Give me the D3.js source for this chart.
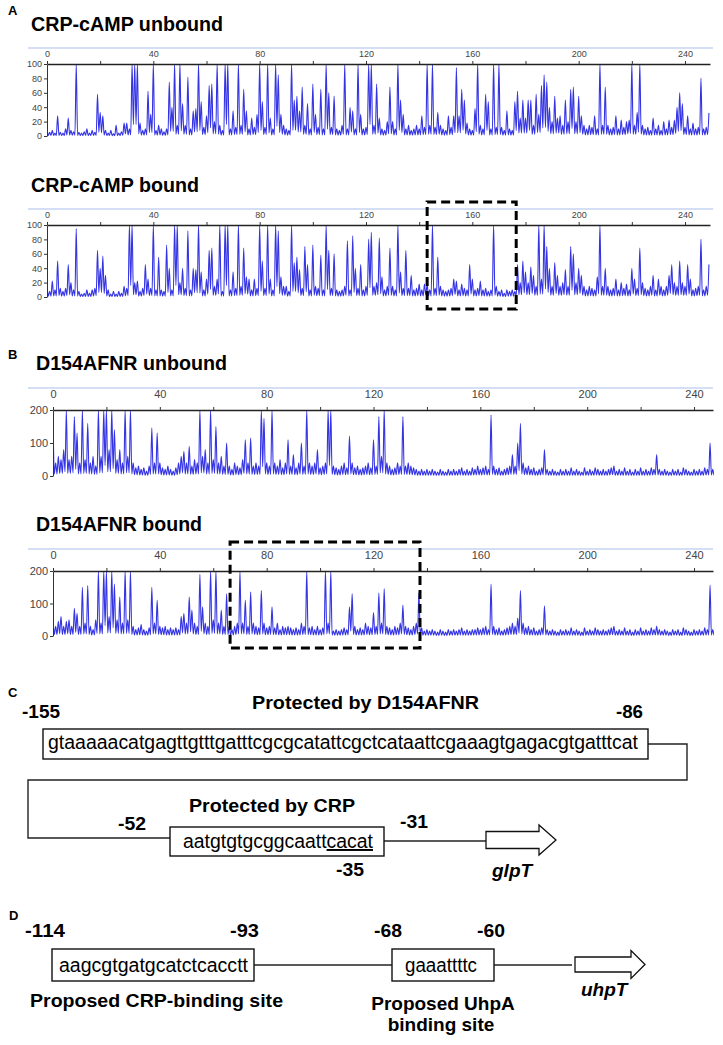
<!DOCTYPE html>
<html><head><meta charset="utf-8">
<script src="https://cdn.jsdelivr.net/npm/d3@7"></script>
<style>
body{margin:0;background:#fff}
svg text{font-family:"Liberation Sans",Arial,sans-serif}
</style>
</head><body>
<svg id="fig" width="723" height="1045"></svg>
<script>
// ---------- DATA ----------
const basePositions = d3.range(0, 250);
const topTickValues = d3.range(0, 241, 20);
const crpYTicks = [0, 20, 40, 60, 80, 100];
const fnrYTicks = [0, 100, 200];
const panelTitles = ["CRP-cAMP unbound", "CRP-cAMP bound", "D154AFNR unbound", "D154AFNR bound"];

const crpUnbound = [
10,5,8,4,28,5,4,10,25,8, 6,100,5,4,6,10,4,8,5,58, 33,28,8,4,8,3,15,4,6,18,
18,10,100,100,100,18,8,10,62,30, 100,8,15,10,6,10,75,40,100,15, 100,45,15,82,10,35,38,100,48,12,
28,70,72,20,100,15,8,100,100,10, 35,12,100,15,65,35,10,25,12,30, 100,48,12,100,25,10,100,85,30,15,
10,8,100,50,55,35,68,15,45,10, 72,30,12,65,10,100,60,12,55,10, 8,15,100,10,40,35,10,100,30,10,
12,100,100,15,72,25,10,8,20,68, 20,10,100,50,30,10,15,8,10,15, 10,28,12,100,15,100,12,33,15,10,
8,28,12,28,95,28,65,50,18,10, 8,38,100,15,10,58,48,10,100,12, 100,12,8,35,10,8,48,62,25,50,
25,50,50,15,58,30,70,85,75,40, 20,55,25,28,15,50,20,65,68,20, 55,28,15,10,15,12,28,10,100,15,
68,15,10,12,28,10,22,12,20,22, 100,15,33,100,15,10,12,8,25,10, 15,8,20,10,22,12,22,40,60,45,
12,28,10,18,10,12,80,10,12,32];

const crpBound = [
15,8,22,10,50,12,8,12,45,20, 10,95,8,4,5,10,5,10,12,65, 40,57,30,10,4,8,4,8,5,15,
12,100,100,20,22,8,12,45,25,12, 100,10,55,10,8,72,40,10,100,100, 20,40,12,92,10,40,38,100,35,10,
25,65,68,15,25,100,8,100,100,10, 35,12,100,15,68,28,25,10,25,12, 100,50,12,100,25,10,100,92,28,15,
15,8,100,48,55,38,12,70,45,10, 72,15,12,58,10,100,65,12,60,10, 8,10,15,78,10,85,40,12,45,10,
15,80,90,15,20,82,28,10,15,68, 15,10,100,35,12,65,12,30,10,12, 18,10,18,18,10,100,12,55,15,10,
8,10,12,25,22,10,18,12,10,45, 25,10,12,22,10,12,8,10,100,15, 8,10,5,10,8,10,8,45,20,50,
35,20,42,30,15,100,25,100,70,40, 15,48,30,15,20,38,15,70,60,20, 40,30,15,10,15,12,10,28,100,15,
40,15,10,12,25,10,20,12,18,10, 40,25,12,68,20,12,10,15,30,10, 25,15,10,15,30,45,20,15,50,20,
15,45,25,10,12,15,80,10,15,45];

const fnrUnbound = [
185,40,60,50,80,200,50,60,180,130, 40,200,50,160,40,60,30,200,60,200, 200,80,200,140,50,80,40,200,60,200,
40,25,30,20,25,15,30,145,40,130, 40,25,20,30,20,15,25,40,60,75, 40,90,30,50,40,200,60,80,40,200,
50,150,40,60,30,100,30,20,40,30, 25,50,110,40,115,30,40,30,200,175, 40,30,200,40,30,50,25,40,110,30,
65,25,40,100,30,200,40,30,40,80, 25,30,40,200,200,30,25,20,30,40, 25,120,40,25,30,20,25,30,40,25,
110,30,180,60,200,40,30,20,25,40, 30,180,30,40,30,25,20,15,20,15, 20,15,20,15,12,20,15,12,20,15,
20,15,20,25,15,20,15,25,20,30, 20,25,30,20,185,30,20,25,15,20, 25,30,65,30,100,160,40,25,30,20,
25,15,20,25,80,20,15,20,15,12, 20,15,20,15,25,15,20,15,12,25, 15,20,15,25,20,15,20,15,20,25,
30,15,20,15,25,15,20,12,20,15, 25,15,20,15,25,20,65,20,15,20, 15,12,20,15,20,12,25,20,15,12,
20,15,20,15,25,20,100,20,15,25];

const fnrBound = [
55,30,45,60,30,45,50,30,85,70, 30,150,40,155,30,20,50,200,40,200, 200,60,200,160,50,120,40,200,50,200,
30,20,25,35,20,15,25,150,40,110, 30,25,30,20,25,20,25,20,60,70, 40,120,80,40,30,190,90,40,30,200,
50,200,40,80,30,130,30,20,30,40, 200,40,110,30,135,40,30,25,140,40, 25,30,90,25,40,20,30,25,30,25,
20,25,20,40,30,200,25,30,20,30, 20,25,200,40,200,15,20,15,20,25, 20,90,130,30,20,25,20,40,30,25,
72,30,132,40,145,30,25,20,30,25, 40,95,30,25,20,30,40,132,25,15, 20,15,20,15,12,20,15,12,20,15,
20,15,20,25,15,20,15,20,20,25, 20,25,30,20,160,30,20,25,15,20, 25,30,40,30,55,140,40,25,30,20,
25,15,20,25,93,20,15,20,15,12, 20,15,20,15,25,15,20,15,12,25, 15,20,15,25,20,15,20,15,20,25,
30,15,20,15,25,15,20,12,20,15, 25,15,20,15,25,20,30,20,15,20, 15,12,20,15,20,12,25,20,15,12,
20,15,20,15,25,20,157,20,15,25];

// protected regions (base positions) marked by dashed boxes
const crpFootprint = [143, 176.5];
const fnrFootprint = [66.3, 137.4];

// ---------- LAYOUT ----------
const svg = d3.select("#fig");
const panels = [
  {letter:"A", letterY:15, title:panelTitles[0], tx:31, tb:31, tw:192, data:crpUnbound, yMax:100, yTicks:crpYTicks,
   x0:47, x1:710, xEnd:249.4, axisY:64, zeroY:136, blueY:48, fs:9, pad:4},
  {title:panelTitles[1], tx:31, tb:192, tw:168, data:crpBound, yMax:100, yTicks:crpYTicks,
   x0:47, x1:710, xEnd:249.4, axisY:225, zeroY:297, blueY:209, fs:9, pad:4, box:crpFootprint},
  {letter:"B", letterY:359, title:panelTitles[2], tx:36, tb:370, tw:191, data:fnrUnbound, yMax:200, yTicks:fnrYTicks,
   x0:53, x1:713, xEnd:247.1, axisY:410, zeroY:476, blueY:388, fs:11, pad:9},
  {title:panelTitles[3], tx:36, tb:531, tw:166, data:fnrBound, yMax:200, yTicks:fnrYTicks,
   x0:53, x1:713, xEnd:247.1, axisY:571, zeroY:636, blueY:549, fs:11, pad:9, box:fnrFootprint}
];

const traceColor = "#3434e4";

panels.forEach((p, k) => {
  const g = svg.append("g");
  if (p.letter) g.append("text").attr("x", 8).attr("y", p.letterY).attr("font-size", 13)
      .attr("font-weight", "bold").text(p.letter);
  g.append("text").attr("x", p.tx).attr("y", p.tb).attr("font-size", 19.5).attr("font-weight", "bold")
    .attr("textLength", p.tw).attr("lengthAdjust", "spacingAndGlyphs").text(p.title);

  const x = d3.scaleLinear().domain([0, p.xEnd]).range([p.x0, p.x1]);
  const y = d3.scaleLinear().domain([0, p.yMax]).range([p.zeroY, p.axisY]);

  // light blue ruler line
  g.append("line").attr("x1", 28).attr("x2", 713).attr("y1", p.blueY).attr("y2", p.blueY)
    .attr("stroke", "#a9bde9").attr("stroke-width", 1.2);

  // clip for trace
  const cid = "clip" + k;
  g.append("clipPath").attr("id", cid).append("rect")
    .attr("x", p.x0).attr("y", p.axisY).attr("width", p.x1 - p.x0 + 1).attr("height", p.zeroY - p.axisY + 4);

  const pts = [];
  basePositions.forEach(i => {
    const v = p.data[i];
    pts.push([i, v]);
    if (i < basePositions.length - 1) pts.push([i + 0.5, Math.min(v, p.data[i + 1]) * 0.16]);
  });
  const line = d3.line().x(d => x(d[0])).y(d => y(d[1])).curve(d3.curveMonotoneX);
  g.append("path").attr("clip-path", `url(#${cid})`).attr("d", line(pts))
    .attr("fill", "none").attr("stroke", traceColor).attr("stroke-width", 1.1).attr("stroke-linejoin", "round");

  // top axis
  const top = d3.axisTop(x).tickValues(topTickValues).tickSize(3).tickSizeOuter(0).tickPadding(p.pad)
    .tickFormat(d => d % 40 === 0 ? d : "");
  const ga = g.append("g").attr("transform", `translate(0,${p.axisY})`).call(top);
  ga.select(".domain").attr("stroke", "#222").attr("stroke-width", 1.3);
  ga.selectAll(".tick line").attr("stroke", "#333");
  ga.selectAll(".tick text").attr("font-size", p.fs).attr("fill", "#444")
    .style("font-family", '"Liberation Sans",Arial,sans-serif');

  // left axis
  const left = d3.axisLeft(y).tickValues(p.yTicks).tickSize(3).tickSizeOuter(0).tickPadding(2);
  const gl = g.append("g").attr("transform", `translate(${p.x0},0)`).call(left);
  gl.select(".domain").attr("stroke", "#333").attr("stroke-width", 1);
  gl.selectAll(".tick line").attr("stroke", "#333");
  gl.selectAll(".tick text").attr("font-size", p.fs).attr("fill", "#444")
    .style("font-family", '"Liberation Sans",Arial,sans-serif');

  if (p.box) {
    g.append("rect").attr("x", x(p.box[0])).attr("y", p.blueY - 7)
      .attr("width", x(p.box[1]) - x(p.box[0])).attr("height", (p.zeroY + 12) - (p.blueY - 7))
      .attr("fill", "none").attr("stroke", "#000").attr("stroke-width", 3).attr("stroke-dasharray", "9,5");
  }
});

// ---------- PANELS C and D (promoter schematics) ----------
function label(x, y, s, o = {}) {
  const t = svg.append("text").attr("x", x).attr("y", y).attr("font-size", o.fs || 19)
    .attr("font-weight", o.normal ? "normal" : "bold").text(s);
  if (o.italic) t.attr("font-style", "italic");
  if (o.anchor) t.attr("text-anchor", o.anchor);
  if (o.w) t.attr("textLength", o.w).attr("lengthAdjust", "spacingAndGlyphs");
  return t;
}
function box(x1, y1, x2, y2) {
  svg.append("rect").attr("x", x1).attr("y", y1).attr("width", x2 - x1).attr("height", y2 - y1)
    .attr("fill", "#fff").attr("stroke", "#111").attr("stroke-width", 1.4);
}
function wire(points) {
  svg.append("path").attr("d", d3.line()(points)).attr("fill", "none")
    .attr("stroke", "#222").attr("stroke-width", 1.4);
}
function arrow(xs, xh, xt, yc, bh, hh) {
  const pts = [[xs, yc - bh], [xh, yc - bh], [xh, yc - hh], [xt, yc], [xh, yc + hh], [xh, yc + bh], [xs, yc + bh]];
  svg.append("path").attr("d", d3.line()(pts) + "Z").attr("fill", "#fff")
    .attr("stroke", "#111").attr("stroke-width", 1.3);
}

// C
label(8, 697, "C", {fs: 13});
label(22, 718, "-155", {w: 38});
label(252, 709, "Protected by D154AFNR", {w: 227});
label(616, 718, "-86", {w: 27});
wire([[648, 744], [687, 744], [687, 780], [28, 780], [28, 838], [170, 838]]);
box(43, 729, 648, 759);
label(48, 749, "gtaaaaacatgagttgtttgatttcgcgcatattcgctcataattcgaaagtgagacgtgatttcat", {normal: true, fs: 19.5, w: 590});
label(189, 812, "Protected by CRP", {w: 166});
label(118, 830, "-52", {w: 28});
label(400, 828, "-31", {w: 28});
wire([[384, 841], [486, 841]]);
box(170, 827, 384, 856);
const seq2 = label(183, 848, "", {normal: true, fs: 19.5, w: 190});
seq2.append("tspan").text("aatgtgtgcggcaatt");
seq2.append("tspan").style("text-decoration", "underline").text("cacat");
arrow(486, 539, 556, 840, 8.5, 15);
label(336, 876, "-35", {w: 28});
label(492, 877, "glpT", {italic: true});

// D
label(9, 920, "D", {fs: 13});
label(25, 937, "-114", {w: 40});
label(230, 937, "-93", {w: 29});
label(374, 937, "-68", {w: 28});
label(477, 937, "-60", {w: 28});
wire([[254, 965], [392, 965]]);
wire([[494, 965], [572, 965]]);
box(52, 949, 254, 981);
label(59, 972, "aagcgtgatgcatctcacctt", {normal: true, fs: 19.5, w: 189});
box(392, 949, 494, 981);
label(405, 972, "gaaattttc", {normal: true, fs: 19.5, w: 72});
arrow(575, 631, 645, 964.5, 7.5, 14);
label(581, 996, "uhpT", {italic: true});
label(30, 1007, "Proposed CRP-binding site", {w: 253});
label(443, 1010, "Proposed UhpA", {anchor: "middle"});
label(441, 1031, "binding site", {anchor: "middle"});
</script>
</body></html>
